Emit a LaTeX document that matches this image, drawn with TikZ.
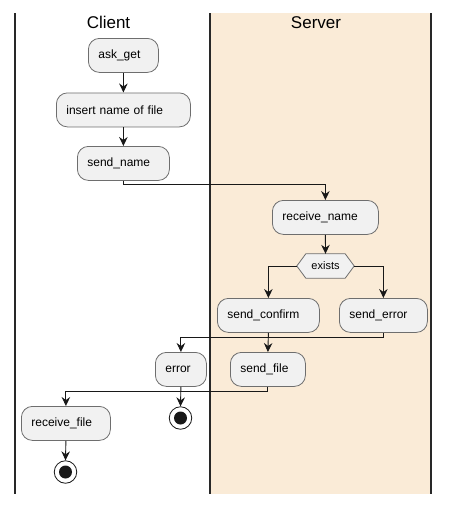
\documentclass[tikz,border=0pt]{standalone}
\usepackage{fontspec}
\setmainfont{Liberation Sans}
\usetikzlibrary{arrows.meta,calc}
\definecolor{lanebg}{RGB}{250,235,215}
\definecolor{boxfill}{RGB}{241,241,241}
\definecolor{boxline}{RGB}{110,110,110}
\definecolor{edgecol}{RGB}{24,24,24}
\definecolor{lanecol}{RGB}{40,40,40}
\begin{document}
\begin{tikzpicture}[x=1pt,y=-1pt,
  act/.style={draw=boxline, fill=boxfill, rounded corners=11pt, line width=0.8pt,
    minimum height=34pt, inner xsep=10pt, inner ysep=0pt, align=left,
    font=\fontsize{12}{14}\selectfont, anchor=north west},
  flow/.style={draw=edgecol, line width=0.9pt, -{Stealth[length=9pt,width=8.5pt,inset=3pt]}},
  lane/.style={draw=lanecol, line width=1.4pt},
  hdr/.style={font=\fontsize{17}{20}\selectfont, inner sep=0pt},
  finish/.style={circle, draw=edgecol, fill=white, minimum size=22.5pt, inner sep=0pt, line width=0.8pt,
    path picture={\fill[edgecol] (path picture bounding box.center) circle (6.5pt);}},
  hexbox/.style={minimum width=57pt, minimum height=24pt, inner sep=0pt},
  hexshape/.style={draw=boxline, fill=boxfill, line width=0.8pt},
  hexlabel/.style={font=\fontsize{11}{13}\selectfont, inner sep=0pt}
]
\useasboundingbox (0,0) rectangle (451,506);
% lanes
\fill[lanebg] (210,13) rectangle (431,494);
\draw[lane] (15,13) -- (15,494);
\draw[lane] (210,13) -- (210,494);
\draw[lane] (431,13) -- (431,494);
\node[hdr] (client) at (108.5,22.5) {Client};
\node[hdr] (server) at (316,22.5) {Server};
% activities
\node[act, text width=50pt] (ask) at (88,38) {ask\_get};
\node[act, text width=114pt] (ins) at (56,92.5) {insert name of file};
\node[act, text width=72pt] (sn) at (77,146) {send\_name};
\node[act, text width=86pt] (rn) at (272,200) {receive\_name};
\node[hexbox] (ex) at (325.5,266) {};
\draw[hexshape] (ex.west) -- ($(ex.north west)+(9,0)$) -- ($(ex.north east)+(-9,0)$) -- (ex.east)
  -- ($(ex.south east)+(-9,0)$) -- ($(ex.south west)+(9,0)$) -- cycle;
\node[hexlabel] (exlbl) at (ex) {exists};
\node[act, text width=82pt] (sc) at (217,298) {send\_confirm};
\node[act, text width=68pt] (se) at (339,298) {send\_error};
\node[act, text width=31pt] (err) at (155,352) {error};
\node[act, text width=55pt] (sf) at (230,352) {send\_file};
\node[act, text width=69pt] (rf) at (21,406) {receive\_file};
\node[finish] (end1) at (180.5,418) {};
\node[finish] (end2) at (65.5,472) {};
% connectors
\draw[flow] (ask.south) -- (ins.north);
\draw[flow] (ins.south) -- (sn.north);
\draw[flow] (sn.south) -- ++(0,4) -| (rn.north);
\draw[flow] (rn.south) -- (ex.north);
\draw[flow] (ex.west) -| (sc.north);
\draw[flow] (ex.east) -| (se.north);
\draw[flow] (se.south) -- ++(0,5) -| (err.north);
\draw[flow] (sc.south) -- (sf.north);
\draw[flow] (sf.south) -- ++(0,5) -| (rf.north);
\draw[flow] (err.south) -- (end1.north);
\draw[flow] (rf.south) -- (end2.north);
\end{tikzpicture}
\end{document}
